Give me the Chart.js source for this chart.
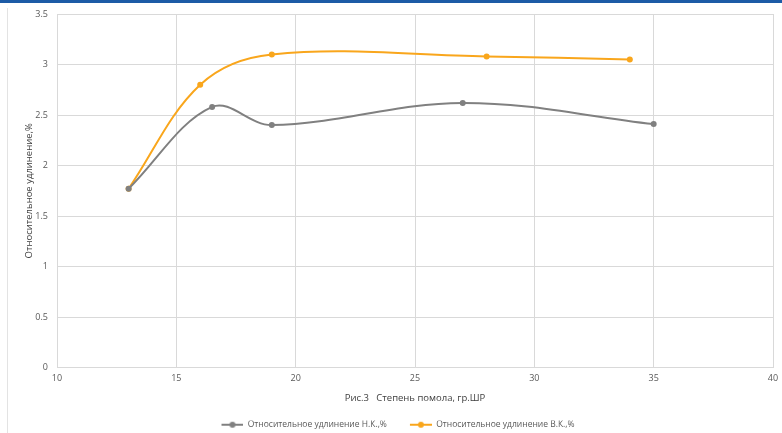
<!DOCTYPE html>
<html>
<head>
<meta charset="utf-8">
<script src="https://cdn.jsdelivr.net/npm/chart.js@4"></script>
<style>
  html, body { margin: 0; padding: 0; background: #fff; }
  #wrap { position: relative; width: 782px; height: 433px; overflow: hidden; }
  #topbar { position: absolute; left: 0; top: 0; width: 782px; height: 3px; background: #1d5ba6; }
  #frame { position: absolute; left: 7px; top: 8px; width: 1px; height: 425px; background: #e3e3e3; }
  canvas { position: absolute; left: 0; top: 0; }
</style>
</head>
<body>
<div id="wrap">
  <div id="topbar"></div>
  <div id="frame"></div>
  <canvas id="c" width="782" height="433"></canvas>
</div>
<script>
// Degree of beating (°SR) against relative elongation, two fibre types
const nkX = [13, 16.5, 19, 27, 35];
const nkY = [1.77, 2.58, 2.40, 2.62, 2.41];
const vkX = [13, 16, 19, 28, 34];
const vkY = [1.77, 2.80, 3.10, 3.08, 3.05];
const seriesNames = ['Относительное удлинение Н.К.,%', 'Относительное удлинение В.К.,%'];
const xTitle = 'Рис.3   Степень помола, гр.ШР';
const yTitle = 'Относительное удлинение,%';

const GRAY = '#808080';
const ORANGE = '#f9a61c';
const FONT = "'Open Sans', 'DejaVu Sans', sans-serif";
const TXT = '#595959';

const SWATCH_GAP = 23;   // blank space before each legend entry
const SWATCH_LINE = 22;  // length of the legend line sample

function pts(xs, ys) { return xs.map((x, i) => ({ x: x, y: ys[i] })); }

// legend sample: short line with a dot, preceded by a blank gap
function swatch(color) {
  const c = document.createElement('canvas');
  c.width = SWATCH_GAP + SWATCH_LINE; c.height = 8;
  const g = c.getContext('2d');
  g.strokeStyle = color; g.lineWidth = 2;
  g.beginPath(); g.moveTo(SWATCH_GAP, 4); g.lineTo(SWATCH_GAP + SWATCH_LINE, 4); g.stroke();
  g.fillStyle = color;
  g.beginPath(); g.arc(SWATCH_GAP + SWATCH_LINE / 2, 4, 3, 0, Math.PI * 2); g.fill();
  return c;
}

const lineDs = (label, data, color) => ({
  label: label,
  data: data,
  showLine: true,
  borderColor: color,
  backgroundColor: color,
  borderWidth: 2,
  pointRadius: 3,
  pointHoverRadius: 3,
  pointBorderWidth: 0,
  pointStyle: 'circle',
  tension: 0.36,
  cubicInterpolationMode: 'default'
});

new Chart(document.getElementById('c'), {
  type: 'scatter',
  data: {
    datasets: [
      lineDs(seriesNames[0], pts(nkX, nkY), GRAY),
      lineDs(seriesNames[1], pts(vkX, vkY), ORANGE)
    ]
  },
  options: {
    responsive: false,
    animation: false,
    devicePixelRatio: 1,
    layout: { padding: { left: 0, right: 9, top: 14, bottom: -6 } },
    plugins: {
      tooltip: { enabled: false },
      legend: {
        position: 'bottom',
        labels: {
          font: { family: FONT, size: 8.5 },
          color: TXT,
          usePointStyle: true,
          pointStyleWidth: SWATCH_GAP + SWATCH_LINE,
          boxHeight: 8,
          padding: 0,
          generateLabels(chart) {
            return chart.data.datasets.map((ds, i) => ({
              text: ds.label,
              pointStyle: swatch(ds.borderColor),
              fontColor: TXT,
              strokeStyle: ds.borderColor,
              fillStyle: ds.borderColor,
              lineWidth: 0,
              datasetIndex: i
            }));
          }
        }
      }
    },
    scales: {
      x: {
        type: 'linear',
        min: 10, max: 40,
        ticks: { stepSize: 5, font: { family: FONT, size: 9 }, color: TXT, padding: 6, maxRotation: 0 },
        grid: { color: '#d9d9d9', drawTicks: false },
        border: { color: '#d9d9d9' },
        title: { display: true, text: xTitle, font: { family: FONT, size: 9.5 }, color: '#404040', padding: { top: 1, bottom: 17 } },
        afterFit(scale) { scale.height = 53; scale.paddingLeft = 0; scale.paddingRight = 0; }
      },
      y: {
        type: 'linear',
        min: 0, max: 3.5,
        ticks: { stepSize: 0.5, font: { family: FONT, size: 9 }, color: TXT, padding: 9, callback: v => String(v) },
        grid: { color: '#d9d9d9', drawTicks: false },
        border: { color: '#d9d9d9' },
        title: { display: true, text: yTitle, font: { family: FONT, size: 9.5 }, color: '#404040', padding: { top: 24, bottom: 0 } },
        afterFit(scale) { scale.width = 57; scale.paddingTop = 0; scale.paddingBottom = 0; }
      }
    }
  }
});
</script>
</body>
</html>
